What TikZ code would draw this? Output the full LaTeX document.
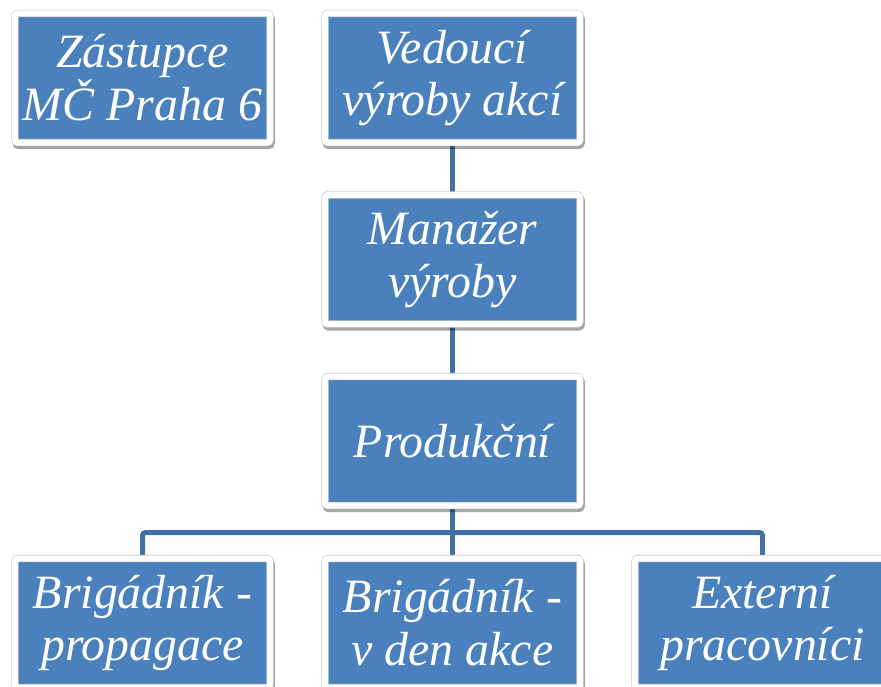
\documentclass[tikz,border=0pt]{standalone}
\usepackage{fontspec}
\setmainfont{Liberation Serif}
\usetikzlibrary{shadows,backgrounds}
\definecolor{boxblue}{HTML}{4A81BD}
\definecolor{lineblue}{HTML}{4170A8}
\definecolor{rimgray}{HTML}{C8C8C8}
\tikzset{
  orgbox/.style={rectangle, rounded corners=2.5bp, minimum width=255bp, minimum height=129bp,
    inner sep=0pt, align=center, fill=boxblue, draw=rimgray, line width=0.6bp,
    double=white, double distance=6bp, text=white,
    font=\fontsize{48}{53}\selectfont\itshape,
    drop shadow={shadow xshift=1.2bp, shadow yshift=-3bp, opacity=0.35, fill=black, draw=black, line width=7.2bp}},
  link/.style={draw=lineblue, line width=5bp, rounded corners=3bp}
}
\begin{document}
\begin{tikzpicture}[x=1bp,y=-1bp]
\useasboundingbox (0,0) rectangle (881,687);
\node[orgbox] (z) at (142.5,78) {Zástupce\\MČ Praha 6};
\node[orgbox] (v) at (452.5,78) {Vedoucí\\výroby akcí};
\node[orgbox] (m) at (452.5,259.5) {Manažer\\výroby};
\node[orgbox] (p) at (452.5,441) {Produkční};
\node[orgbox] (b1) at (142.5,623) {Brigádník -\\propagace};
\node[orgbox] (b2) at (452.5,623) {Brigádník -\\v den akce};
\node[orgbox] (b3) at (762.5,623) {Externí\\pracovníci};
\coordinate (bus) at (452.5,532.5);
\begin{scope}[on background layer]
\draw[link] (v) -- (m);
\draw[link] (m) -- (p);
\draw[link] (p) -- (b2);
\draw[link] (b1) |- (bus) -| (b3);
\end{scope}
\end{tikzpicture}
\end{document}
